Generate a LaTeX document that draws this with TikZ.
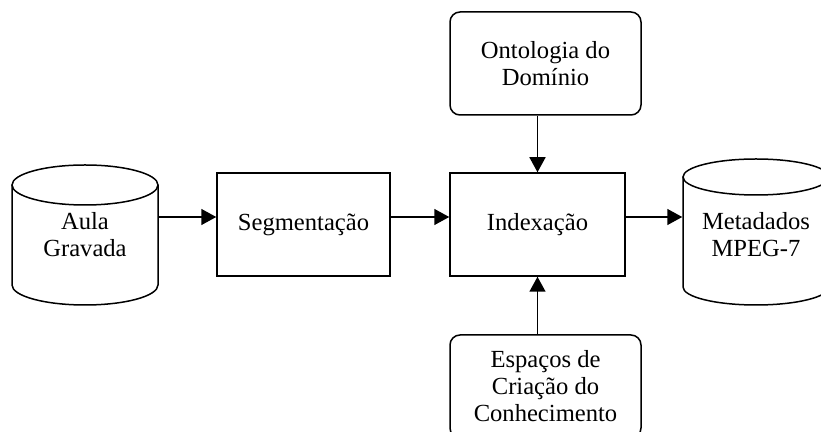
\documentclass[tikz,border=0pt]{standalone}
\usepackage{fontspec}
\setmainfont{Liberation Serif}
\usetikzlibrary{arrows.meta}
\begin{document}
\begin{tikzpicture}[x=0.5pt,y=-0.5pt,line width=0.75pt,
  font=\fontsize{12.3}{13.5}\selectfont,
  box/.style={draw,rectangle,minimum width=86.5pt,minimum height=51.5pt,align=center,inner sep=0pt},
  rbox/.style={draw,rectangle,rounded corners=5pt,minimum width=95.5pt,minimum height=51.5pt,align=center,inner sep=0pt},
  cyl/.style={rectangle,minimum width=73pt,minimum height=70pt,align=center,inner sep=0pt},
  arr/.style={-{Triangle[length=7.5pt,width=8pt]}}]
\useasboundingbox (0,0) rectangle (821,432);
\clip (0,0) rectangle (821,432);
% left cylinder
\draw (12,185) -- (12,285) arc[start angle=180,end angle=360,x radius=36.5pt,y radius=10pt] -- (158,185);
\draw (85,185) ellipse [x radius=36.5pt,y radius=10pt];
\node[cyl] (aula) at (85,235) {Aula\\Gravada};
% right cylinder
\draw (683,177) -- (683,287) arc[start angle=180,end angle=360,x radius=36.5pt,y radius=9pt] -- (829,177);
\draw (756,177) ellipse [x radius=36.5pt,y radius=9pt];
\node[cyl] (meta) at (756,235) {Metadados\\MPEG-7};
% boxes
\node[box] (seg) at (303.5,224.5) {Segmentação};
\node[box,minimum width=87.5pt] (idx) at (537.5,224.5) {Indexação};
\node[rbox] (ont) at (545.5,63.5) {Ontologia do\\Domínio};
\node[rbox] (esp) at (545.5,386.5) {Espaços de\\Criação do\\Conhecimento};
% connectors
\coordinate (ay) at (0,217);
\draw[arr] (ay -| aula.east) -- (ay -| seg.west);
\draw[arr] (ay -| seg.east) -- (ay -| idx.west);
\draw[arr] (ay -| idx.east) -- (ay -| meta.west);
\draw[arr] (idx.north |- ont.south) -- (idx.north);
\draw[arr] (idx.south |- esp.north) -- (idx.south);
\end{tikzpicture}
\end{document}
